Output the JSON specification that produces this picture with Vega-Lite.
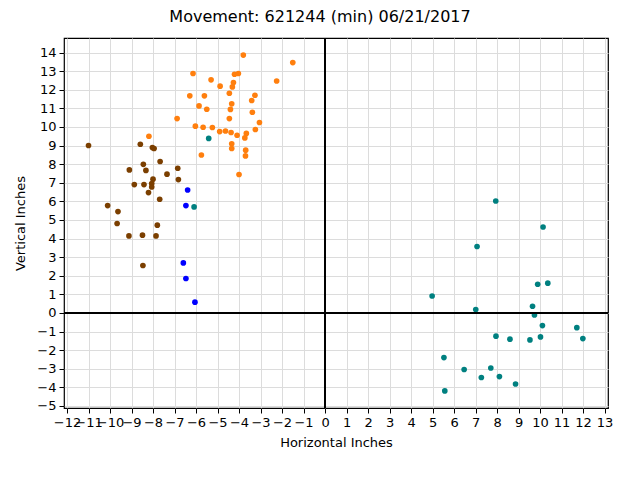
{
  "$schema": "https://vega.github.io/schema/vega-lite/v6.json",
  "width": 544,
  "height": 370,
  "autosize": "none",
  "padding": {"left": 64, "top": 38, "right": 32, "bottom": 72},
  "background": "white",
  "title": {"text": "Movement: 621244 (min) 06/21/2017", "font": "DejaVu Sans", "fontSize": 16, "fontWeight": "normal", "anchor": "middle", "frame": "group", "dx": -16, "offset": 12, "color": "black"},
  "config": {
    "view": {"stroke": "black", "strokeWidth": 1.2},
    "axis": {"labelFont": "DejaVu Sans", "titleFont": "DejaVu Sans", "labelFontSize": 13, "titleFontSize": 13, "titleFontWeight": "normal", "labelColor": "black", "titleColor": "black", "tickColor": "black", "tickSize": 5, "domain": false, "gridColor": "#dcdcdc", "gridWidth": 1, "gridOpacity": 1}
  },
  "data": {"values": [
    {"g": "orange", "x": -3.80, "y": 13.86},
    {"g": "orange", "x": -1.50, "y": 13.46},
    {"g": "orange", "x": -6.14, "y": 12.87},
    {"g": "orange", "x": -4.21, "y": 12.83},
    {"g": "orange", "x": -4.03, "y": 12.87},
    {"g": "orange", "x": -5.30, "y": 12.53},
    {"g": "orange", "x": -2.25, "y": 12.47},
    {"g": "orange", "x": -4.88, "y": 12.19},
    {"g": "orange", "x": -4.26, "y": 12.39},
    {"g": "orange", "x": -4.31, "y": 12.15},
    {"g": "orange", "x": -6.29, "y": 11.67},
    {"g": "orange", "x": -5.61, "y": 11.67},
    {"g": "orange", "x": -4.45, "y": 11.81},
    {"g": "orange", "x": -3.26, "y": 11.70},
    {"g": "orange", "x": -3.41, "y": 11.42},
    {"g": "orange", "x": -4.34, "y": 11.24},
    {"g": "orange", "x": -5.86, "y": 11.13},
    {"g": "orange", "x": -5.50, "y": 10.95},
    {"g": "orange", "x": -4.40, "y": 10.94},
    {"g": "orange", "x": -3.38, "y": 10.79},
    {"g": "orange", "x": -6.88, "y": 10.45},
    {"g": "orange", "x": -4.45, "y": 10.45},
    {"g": "orange", "x": -3.05, "y": 10.24},
    {"g": "orange", "x": -6.03, "y": 10.04},
    {"g": "orange", "x": -5.67, "y": 9.98},
    {"g": "orange", "x": -5.24, "y": 9.97},
    {"g": "orange", "x": -3.24, "y": 9.86},
    {"g": "orange", "x": -4.90, "y": 9.75},
    {"g": "orange", "x": -4.63, "y": 9.78},
    {"g": "orange", "x": -4.37, "y": 9.70},
    {"g": "orange", "x": -4.09, "y": 9.55},
    {"g": "orange", "x": -3.66, "y": 9.65},
    {"g": "orange", "x": -3.73, "y": 9.41},
    {"g": "orange", "x": -8.19, "y": 9.50},
    {"g": "orange", "x": -4.34, "y": 9.09},
    {"g": "orange", "x": -4.34, "y": 8.84},
    {"g": "orange", "x": -3.69, "y": 8.75},
    {"g": "orange", "x": -3.70, "y": 8.44},
    {"g": "orange", "x": -5.75, "y": 8.49},
    {"g": "orange", "x": -4.00, "y": 7.44},
    {"g": "brown", "x": -11.0, "y": 9.00},
    {"g": "brown", "x": -8.59, "y": 9.07},
    {"g": "brown", "x": -8.03, "y": 8.89},
    {"g": "brown", "x": -7.95, "y": 8.84},
    {"g": "brown", "x": -7.67, "y": 8.14},
    {"g": "brown", "x": -8.45, "y": 7.99},
    {"g": "brown", "x": -9.10, "y": 7.69},
    {"g": "brown", "x": -8.33, "y": 7.66},
    {"g": "brown", "x": -6.85, "y": 7.78},
    {"g": "brown", "x": -7.35, "y": 7.46},
    {"g": "brown", "x": -6.82, "y": 7.17},
    {"g": "brown", "x": -8.00, "y": 7.19},
    {"g": "brown", "x": -8.87, "y": 6.90},
    {"g": "brown", "x": -8.42, "y": 6.90},
    {"g": "brown", "x": -8.06, "y": 6.96},
    {"g": "brown", "x": -8.06, "y": 6.77},
    {"g": "brown", "x": -8.21, "y": 6.47},
    {"g": "brown", "x": -7.69, "y": 6.11},
    {"g": "brown", "x": -10.11, "y": 5.77},
    {"g": "brown", "x": -9.63, "y": 5.45},
    {"g": "brown", "x": -9.67, "y": 4.81},
    {"g": "brown", "x": -7.80, "y": 4.72},
    {"g": "brown", "x": -9.12, "y": 4.14},
    {"g": "brown", "x": -8.49, "y": 4.18},
    {"g": "brown", "x": -7.86, "y": 4.14},
    {"g": "brown", "x": -8.47, "y": 2.55},
    {"g": "blue", "x": -6.39, "y": 6.61},
    {"g": "blue", "x": -6.47, "y": 5.77},
    {"g": "blue", "x": -6.59, "y": 2.69},
    {"g": "blue", "x": -6.47, "y": 1.85},
    {"g": "blue", "x": -6.05, "y": 0.58},
    {"g": "teal", "x": -5.41, "y": 9.38},
    {"g": "teal", "x": -6.09, "y": 5.70},
    {"g": "teal", "x": 7.94, "y": 6.02},
    {"g": "teal", "x": 10.14, "y": 4.62},
    {"g": "teal", "x": 7.07, "y": 3.57},
    {"g": "teal", "x": 9.89, "y": 1.54},
    {"g": "teal", "x": 10.36, "y": 1.60},
    {"g": "teal", "x": 4.98, "y": 0.91},
    {"g": "teal", "x": 7.01, "y": 0.18},
    {"g": "teal", "x": 9.65, "y": 0.36},
    {"g": "teal", "x": 9.74, "y": -0.11},
    {"g": "teal", "x": 10.11, "y": -0.68},
    {"g": "teal", "x": 11.71, "y": -0.79},
    {"g": "teal", "x": 11.99, "y": -1.38},
    {"g": "teal", "x": 7.95, "y": -1.25},
    {"g": "teal", "x": 8.60, "y": -1.41},
    {"g": "teal", "x": 9.53, "y": -1.45},
    {"g": "teal", "x": 10.02, "y": -1.29},
    {"g": "teal", "x": 5.53, "y": -2.40},
    {"g": "teal", "x": 6.47, "y": -3.04},
    {"g": "teal", "x": 7.71, "y": -2.96},
    {"g": "teal", "x": 7.27, "y": -3.47},
    {"g": "teal", "x": 8.11, "y": -3.42},
    {"g": "teal", "x": 8.86, "y": -3.82},
    {"g": "teal", "x": 5.57, "y": -4.19}
  ]},
  "layer": [
    {
      "mark": {"type": "point", "filled": true, "size": 32, "opacity": 1, "shape": "circle", "strokeWidth": 0},
      "encoding": {
        "x": {"field": "x", "type": "quantitative", "scale": {"domain": [-12.14, 13.16], "nice": false, "zero": false}, "axis": {"title": "Horizontal Inches", "format": "d", "values": [-12,-11,-10,-9,-8,-7,-6,-5,-4,-3,-2,-1,0,1,2,3,4,5,6,7,8,9,10,11,12,13], "tickCount": 200, "labelPadding": 3, "titlePadding": 7, "labelFlush": false, "labelOverlap": false}},
        "y": {"field": "y", "type": "quantitative", "scale": {"domain": [-5.11, 14.78], "nice": false, "zero": false}, "axis": {"title": "Vertical Inches", "format": "d", "values": [-5,-4,-3,-2,-1,0,1,2,3,4,5,6,7,8,9,10,11,12,13,14], "tickCount": 200, "labelPadding": 3, "titlePadding": 9, "labelFlush": false, "labelOverlap": false}},
        "color": {"field": "g", "type": "nominal", "scale": {"domain": ["orange", "brown", "blue", "teal"], "range": ["#ff7f0e", "#7b3f00", "#0000ff", "#008080"]}, "legend": null}
      }
    },
    {
      "mark": {"type": "rule", "color": "black", "strokeWidth": 1.2},
      "encoding": {"x": {"datum": 0}}
    },
    {
      "mark": {"type": "rule", "color": "black", "strokeWidth": 1.2},
      "encoding": {"y": {"datum": 0}}
    }
  ]
}
